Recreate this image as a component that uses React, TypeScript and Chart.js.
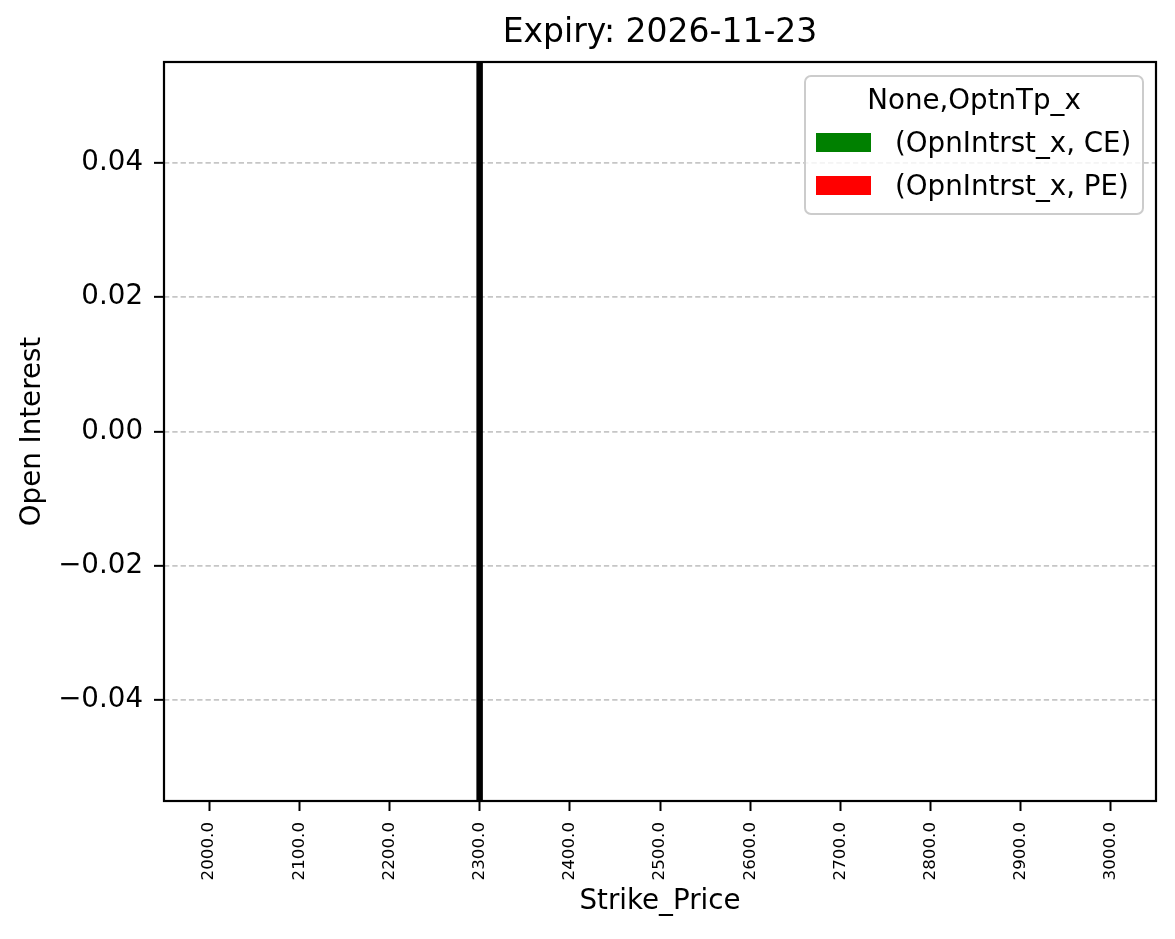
import React, { useEffect, useRef } from "react";
import { Chart, registerables } from "chart.js";

Chart.register(...registerables);

// strikes on the x axis
const STRIKES = [
  "2000.0", "2100.0", "2200.0", "2300.0", "2400.0", "2500.0",
  "2600.0", "2700.0", "2800.0", "2900.0", "3000.0",
];
// open interest per strike (nothing traded for this expiry)
const CE_OI = [0, 0, 0, 0, 0, 0, 0, 0, 0, 0, 0];
const PE_OI = [0, 0, 0, 0, 0, 0, 0, 0, 0, 0, 0];
const SERIES_LABELS = ["(OpnIntrst_x, CE)", "(OpnIntrst_x, PE)"];
const SERIES_COLORS = ["#008000", "#ff0000"];
const Y_TICKS = [-0.04, -0.02, 0, 0.02, 0.04];
const Y_MIN = -0.055;
const Y_MAX = 0.055;
const ATM_STRIKE = "2300.0";
const EXPIRY = "2026-11-23";
const LEGEND_TITLE = "None,OptnTp_x";

const FONT = "DejaVu Sans";

// vertical marker at the at-the-money strike
const strikeLine = {
  id: "strikeLine",
  afterDatasetsDraw(chart: any) {
    const { ctx, chartArea, scales } = chart;
    const x = scales.x.getPixelForValue(STRIKES.indexOf(ATM_STRIKE));
    ctx.save();
    ctx.strokeStyle = "#000";
    ctx.lineWidth = 6.5;
    ctx.beginPath();
    ctx.moveTo(x, chartArea.top);
    ctx.lineTo(x, chartArea.bottom);
    ctx.stroke();
    ctx.restore();
  },
};

// frame + matplotlib style legend inside the plot
const frameAndLegend = {
  id: "frameAndLegend",
  afterDraw(chart: any) {
    const { ctx, chartArea } = chart;
    ctx.save();
    ctx.strokeStyle = "#000";
    ctx.lineWidth = 2.2;
    ctx.strokeRect(
      chartArea.left,
      chartArea.top,
      chartArea.right - chartArea.left,
      chartArea.bottom - chartArea.top
    );

    const w = 338;
    const h = 138;
    const x = chartArea.right - 13 - w;
    const y = chartArea.top + 14;
    ctx.beginPath();
    ctx.roundRect(x, y, w, h, 6);
    ctx.fillStyle = "rgba(255,255,255,0.8)";
    ctx.fill();
    ctx.strokeStyle = "#cccccc";
    ctx.lineWidth = 2;
    ctx.stroke();

    ctx.font = `27.7px "${FONT}"`;
    ctx.fillStyle = "#000";
    ctx.textBaseline = "alphabetic";
    ctx.textAlign = "center";
    ctx.fillText(LEGEND_TITLE, x + w / 2, y + 33);
    ctx.textAlign = "left";
    chart.data.datasets.forEach((ds: any, i: number) => {
      ctx.fillStyle = ds.backgroundColor;
      ctx.fillRect(x + 11, y + 57 + i * 43, 55, 19);
      ctx.fillStyle = "#000";
      ctx.fillText(ds.label, x + 90, y + 76 + i * 43);
    });
    ctx.restore();
  },
};

const App: React.FC = () => {
  const canvasRef = useRef<HTMLCanvasElement>(null!);

  useEffect(() => {
    document.body.style.margin = "0";
    const canvas = canvasRef.current;
    Chart.getChart(canvas)?.destroy();

    const chart = new Chart(canvas, {
      type: "bar",
      data: {
        labels: STRIKES,
        datasets: [
          {
            label: SERIES_LABELS[0],
            data: CE_OI,
            backgroundColor: SERIES_COLORS[0],
            borderWidth: 0,
          },
          {
            label: SERIES_LABELS[1],
            data: PE_OI,
            backgroundColor: SERIES_COLORS[1],
            borderWidth: 0,
          },
        ],
      },
      options: {
        animation: false,
        responsive: false,
        devicePixelRatio: 1,
        layout: { padding: { top: 0, right: 19, bottom: 0, left: 0 } },
        plugins: {
          legend: { display: false },
          tooltip: { enabled: false },
          title: {
            display: true,
            fullSize: false,
            text: `Expiry: ${EXPIRY}`,
            color: "#000",
            font: { family: FONT, size: 33, weight: "normal", lineHeight: 1.2 },
            padding: { top: 14, bottom: 8.4 },
          },
        },
        scales: {
          x: {
            afterFit: (s: any) => {
              s.height = 138;
            },
            grid: {
              offset: false,
              drawOnChartArea: false,
              drawTicks: true,
              tickLength: 10,
              tickColor: "#000",
              tickWidth: 2,
            },
            border: { display: false },
            ticks: {
              color: "#000",
              font: { family: FONT, size: 16.7 },
              minRotation: 90,
              maxRotation: 90,
              padding: 11,
              autoSkip: false,
            },
            title: {
              display: true,
              text: "Strike_Price",
              color: "#000",
              font: { family: FONT, size: 27.7, lineHeight: 1.2 },
              padding: { top: 0, bottom: 20.4 },
            },
          },
          y: {
            min: Y_MIN,
            max: Y_MAX,
            afterFit: (s: any) => {
              s.width = 164;
            },
            afterBuildTicks: (s: any) => {
              s.ticks = Y_TICKS.map((v) => ({ value: v }));
            },
            grid: {
              color: "#c6c6c6",
              lineWidth: 1.7,
              tickLength: 10,
              tickColor: "#000",
              tickWidth: 2,
              tickBorderDash: [],
            },
            border: { display: false, dash: [5.3, 3] },
            ticks: {
              color: "#000",
              font: { family: FONT, size: 27.7 },
              padding: 11,
              callback: (v: any) =>
                (Number(v) < 0 ? "\u2212" : "") + Math.abs(Number(v)).toFixed(2),
            },
            title: {
              display: true,
              text: "Open Interest",
              color: "#000",
              font: { family: FONT, size: 27.7, lineHeight: 1.2 },
              padding: { top: 16, bottom: 0 },
            },
          },
        },
      },
      plugins: [strikeLine, frameAndLegend],
    });

    return () => {
      chart.destroy();
    };
  }, []);

  return (
    <div style={{ width: 1175, height: 939 }}>
      <canvas ref={canvasRef} width={1175} height={939} />
    </div>
  );
};

export default App;
